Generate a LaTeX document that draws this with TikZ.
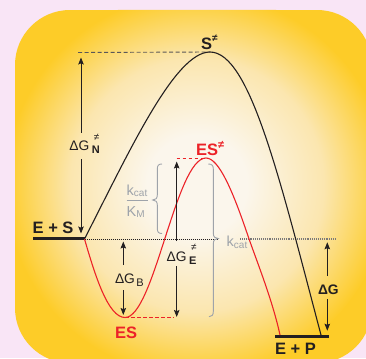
\documentclass[tikz,border=0pt]{standalone}
\usepackage{fontspec}
\setmainfont{Liberation Sans}
\usetikzlibrary{arrows.meta}
\definecolor{pinkbg}{RGB}{249,229,246}
\definecolor{ylw}{RGB}{253,204,40}
\definecolor{cream}{RGB}{251,246,236}
\definecolor{midy}{RGB}{251,230,175}
\definecolor{ink}{RGB}{35,31,32}
\definecolor{rd}{RGB}{236,34,40}
\definecolor{gr}{RGB}{158,163,170}
\pgfdeclareradialshading{panel}{\pgfpoint{0bp}{0bp}}{color(0bp)=(cream); color(6.5bp)=(cream); color(16.5bp)=(midy); color(25bp)=(ylw); color(50bp)=(ylw)}
\newcommand\sml[1]{\fontsize{#1}{#1}\selectfont}
\begin{document}
\begin{tikzpicture}[x=1pt,y=-1pt,
  curve/.style={line width=1.1pt, ink},
  redc/.style={line width=1.1pt, rd},
  arr/.style={line width=0.8pt, ink, -{Stealth[length=7pt,width=5.5pt,inset=1.2pt]}},
  lvl/.style={line width=3pt, ink},
  lbl/.style={inner sep=0pt, outer sep=0pt, text=ink, font=\sml{13.8}},
  big/.style={inner sep=0pt, outer sep=0pt, font=\sml{16.5}\bfseries},
  gtxt/.style={inner sep=0pt, outer sep=0pt, text=gr, font=\sml{14.5}},
  bracestyle/.style={gr, line width=0.9pt},
  dotline/.style={ink, line width=0.8pt, dash pattern=on 0.8pt off 1.2pt},
  dotgray/.style={ink!60, line width=1.1pt, dash pattern=on 1pt off 0.9pt},
  reddash/.style={rd, line width=1pt, dash pattern=on 3.5pt off 2.5pt},
  topdash/.style={ink!75, line width=0.9pt, dash pattern=on 4pt off 2.5pt},
  ]
\useasboundingbox (0,0) rectangle (366,358);
\fill[pinkbg] (0,0) rectangle (366,358);
\begin{scope}
  \clip[rounded corners=55pt] (15,10) rectangle (372,363);
  \fill[ylw] (15,10) rectangle (372,363);
  \shade[shading=panel] (197,185) circle (192);
\end{scope}

% key points
\coordinate (ESpt) at (84.5,239);
\coordinate (TS) at (210,52);
\coordinate (EPb) at (321,335);
\coordinate (ESmin) at (125,317.5);
\coordinate (ESts) at (206,158);
\coordinate (EPr) at (280,335);

% levels
\coordinate (ESl1) at (33,238.5);
\coordinate (ESl2) at (84.5,238.5);
\coordinate (EPl1) at (275,336.5);
\coordinate (EPl2) at (328.5,336.5);
\draw[lvl] (ESl1) -- (ESl2);
\draw[lvl] (EPl1) -- (EPl2);

% dotted reference line
\coordinate (dot1) at (217,239);
\coordinate (dot2) at (240,239);
\coordinate (dot3) at (336,239);
\draw[dotline] (ESpt) -- (dot1);
\draw[dotgray] (dot2) -- (dot3);

% dashed level lines
\coordinate (topd) at (78,52.5);
\draw[topdash] (topd) -- (TS);
\coordinate (rdt) at (176.7,158);
\coordinate (rdb) at (173.5,317.5);
\draw[reddash] (rdt) -- (ESts);
\draw[reddash] (ESmin) -- (rdb);

% uncatalysed curve
\draw[curve] (ESpt) .. controls (130,150) and (175,52) .. (TS)
  .. controls (250,52) and (280,180) .. (EPb);
% catalysed curve
\draw[redc] (ESpt) .. controls (95,275) and (108,317.5) .. (ESmin)
  .. controls (154,317.5) and (176,158) .. (ESts)
  .. controls (219,158) and (233,192) .. (247,233)
  .. controls (255,257) and (272,298) .. (EPr);

% braces
\draw[bracestyle] (162,164) .. controls (158.5,164) and (157.3,165.5) .. (157.3,169)
  -- (157.3,195) .. controls (157.3,198.5) and (155.5,200) .. (152.7,200)
  .. controls (155.5,200) and (157.3,201.5) .. (157.3,205)
  -- (157.3,228.5) .. controls (157.3,232) and (158.5,233.5) .. (162,233.5);
\draw[bracestyle] (208.3,164) .. controls (212,164) and (213.3,165.5) .. (213.3,169)
  -- (213.3,233.5) .. controls (213.3,237) and (215.5,238.5) .. (218.3,238.5)
  .. controls (215.5,238.5) and (213.3,240) .. (213.3,243.5)
  -- (213.3,311.5) .. controls (213.3,315) and (212,316.7) .. (209,316.7);

% arrows
\coordinate (aN1) at (81,133); \coordinate (aN2) at (81,57.5);
\coordinate (aN3) at (81,159); \coordinate (aN4) at (81,233.5);
\draw[arr] (aN1) -- (aN2);
\draw[arr] (aN3) -- (aN4);
\coordinate (aE1) at (176.7,241); \coordinate (aE2) at (176.7,161.5);
\coordinate (aE3) at (176.7,266); \coordinate (aE4) at (176.7,317);
\draw[arr] (aE1) -- (aE2);
\draw[arr] (aE3) -- (aE4);
\coordinate (aB1) at (123.3,265); \coordinate (aB2) at (123.3,241.5);
\coordinate (aB3) at (123.3,290); \coordinate (aB4) at (123.3,315);
\draw[arr] (aB1) -- (aB2);
\draw[arr] (aB3) -- (aB4);
\coordinate (aG1) at (327.3,276); \coordinate (aG2) at (327.3,242.3);
\coordinate (aG3) at (327.3,299); \coordinate (aG4) at (327.3,330.7);
\draw[arr] (aG1) -- (aG2);
\draw[arr] (aG3) -- (aG4);

% labels
\node[big, text=ink, anchor=base west] (Sts) at (201,49.3) {S\raisebox{7.5pt}{\sml{10}≠}};
\node[big, text=rd, anchor=base west] (ESTS) at (196,155) {ES\raisebox{6.5pt}{\sml{11}≠}};
\node[big, text=rd, anchor=base west] (ESlab) at (115,338) {ES};
\node[big, text=ink, anchor=base west] (ESS) at (32.7,233.3) {E + S};
\node[big, text=ink, anchor=base west] (EPP) at (275,354.3) {E + P};

\node[lbl, anchor=base west] (dGN) at (69.3,150.7)
  {ΔG\kern2.5pt\rlap{\raisebox{-3pt}{\sml{11}\bfseries N}}\kern2pt\raisebox{10pt}{\sml{10}≠}};
\node[lbl, anchor=base west] (dGE) at (166.7,261.7)
  {ΔG\kern2.5pt\rlap{\raisebox{-3pt}{\sml{11}\bfseries E}}\kern2pt\raisebox{11pt}{\sml{10}≠}};
\node[lbl, anchor=base west] (dGB) at (115,283.3)
  {ΔG\kern1.5pt\raisebox{-3.4pt}{\sml{11}B}};
\node[lbl, font=\sml{13.8}\bfseries, anchor=base west] (dG) at (318,294) {ΔG};

\node[gtxt, anchor=base west] (kc2) at (226.7,246.7) {k\raisebox{-1.5pt}{\sml{10}cat}};
\node[gtxt, anchor=base west] (kc1) at (126.7,195) {k\raisebox{-1.5pt}{\sml{10}cat}};
\node[gtxt, anchor=base west] (kmM) at (126.7,216) {K\raisebox{-1pt}{\sml{10}M}};
\coordinate (fb1) at (126.7,200); \coordinate (fb2) at (148.3,200);
\draw[gr, line width=0.9pt] (fb1) -- (fb2);
\end{tikzpicture}
\end{document}
